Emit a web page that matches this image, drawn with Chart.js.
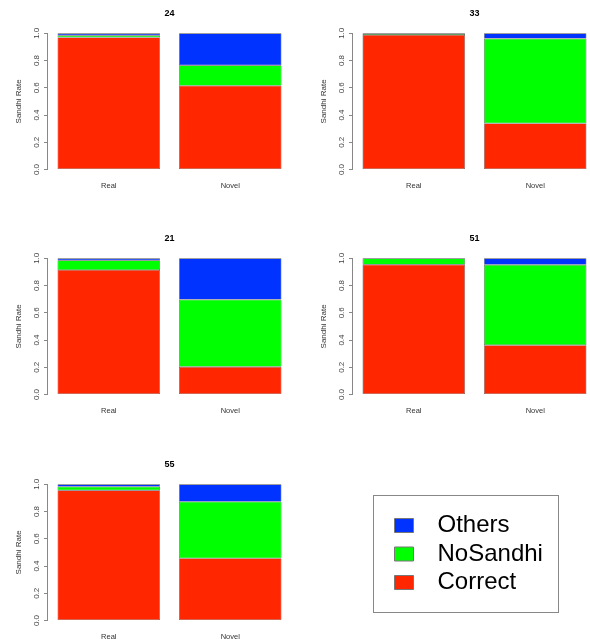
<!DOCTYPE html>
<html>
<head>
<meta charset="utf-8">
<script src="https://cdn.jsdelivr.net/npm/chart.js@4"></script>
<style>
  html, body { margin: 0; padding: 0; background: #fff; width: 590px; height: 639px; overflow: hidden; }
  .panel { position: absolute; width: 295px; height: 225px; }
  #legendFrame { position: absolute; left: 373px; top: 495px; width: 184px; height: 116px; border: 1px solid #888; box-sizing: content-box; }
  #legendCanvas { position: absolute; left: 390px; top: 509px; }
</style>
</head>
<body>
<div id="legendFrame"></div>
<canvas id="legendCanvas" width="200" height="110"></canvas>
<script>
// Sandhi outcome rates per tone pair, real vs. novel words
const categories = ['Real', 'Novel'];
const panelTitles = ['24', '33', '21', '51', '55'];
const seriesNames = ['Correct', 'NoSandhi', 'Others'];
const correct  = [[0.970, 0.615], [0.988, 0.338], [0.914, 0.203], [0.953, 0.362], [0.956, 0.457]];
const noSandhi = [[0.015, 0.150], [0.012, 0.623], [0.071, 0.494], [0.047, 0.590], [0.026, 0.415]];
const others   = [[0.015, 0.235], [0.000, 0.039], [0.015, 0.303], [0.000, 0.048], [0.018, 0.128]];
const yTicks = [0, 0.2, 0.4, 0.6, 0.8, 1.0];

const seriesColors = ['#ff2600', '#00ff00', '#0033ff'];
const FONT = 'Liberation Sans, Arial, Helvetica, sans-serif';

// grid slots for the five panels (left, top)
const slots = [[0, 0], [305, 0], [0, 225], [305, 225], [0, 451]];

// y axis line spanning only the 0..1 range
const axisLine = {
  id: 'axisLine',
  afterDraw(chart) {
    const ys = chart.scales.y;
    const x = Math.round(chart.chartArea.left) - 0.5;
    const ctx = chart.ctx;
    ctx.save();
    ctx.strokeStyle = '#888';
    ctx.lineWidth = 1;
    ctx.beginPath();
    ctx.moveTo(x, ys.getPixelForValue(0));
    ctx.lineTo(x, ys.getPixelForValue(1));
    ctx.stroke();
    ctx.restore();
  }
};

function panelConfig(p) {
  const series = [correct, noSandhi, others];
  return {
    type: 'bar',
    data: {
      labels: categories,
      datasets: series.map((s, i) => ({
        label: seriesNames[i],
        data: s[p],
        backgroundColor: seriesColors[i],
        borderColor: '#555',
        borderWidth: 0.6,
        borderSkipped: false,
        barPercentage: 0.843,
        categoryPercentage: 1
      }))
    },
    options: {
      responsive: false,
      animation: false,
      devicePixelRatio: 1,
      layout: { padding: { left: 0, right: 4, top: 0, bottom: 0 } },
      plugins: {
        legend: { display: false },
        tooltip: { enabled: false },
        title: {
          display: true,
          fullSize: false,
          text: panelTitles[p],
          color: '#000',
          font: { family: FONT, size: 9, weight: 'bold', lineHeight: 1.2 },
          padding: { top: 8.6, bottom: 8.45 }
        }
      },
      scales: {
        x: {
          stacked: true,
          grid: { display: false, drawTicks: false },
          border: { display: false },
          ticks: { color: '#333', font: { family: FONT, size: 7.5 }, padding: 6 },
          afterFit: s => { s.height = 50.05; }
        },
        y: {
          stacked: true,
          min: -0.04,
          max: 1.04,
          afterBuildTicks: s => { s.ticks = yTicks.map(v => ({ value: v })); },
          grid: { drawOnChartArea: false, drawTicks: true, tickLength: 4, color: '#888' },
          border: { display: false },
          ticks: {
            minRotation: 90, maxRotation: 90, crossAlign: 'center', padding: 1.5,
            color: '#444', font: { family: FONT, size: 8 },
            callback: v => Number(v).toFixed(1)
          },
          title: {
            display: true, text: 'Sandhi Rate', color: '#333',
            font: { family: FONT, size: 8 }, padding: { top: 14, bottom: 0 }
          },
          afterFit: s => { s.width = 48; }
        }
      }
    },
    plugins: [axisLine]
  };
}

panelTitles.forEach((t, p) => {
  const c = document.createElement('canvas');
  c.className = 'panel';
  c.width = 295;
  c.height = 225;
  c.style.left = slots[p][0] + 'px';
  c.style.top = slots[p][1] + 'px';
  document.body.appendChild(c);
  new Chart(c, panelConfig(p));
});

// shared legend
new Chart(document.getElementById('legendCanvas'), {
  type: 'bar',
  data: {
    labels: [],
    datasets: seriesNames.map((n, i) => ({ label: n, data: [], backgroundColor: seriesColors[i], borderColor: '#777', borderWidth: 1 }))
  },
  options: {
    responsive: false,
    animation: false,
    devicePixelRatio: 1,
    layout: { padding: 0 },
    scales: { x: { display: false }, y: { display: false } },
    plugins: {
      tooltip: { enabled: false },
      title: { display: false },
      legend: {
        display: true,
        position: 'left',
        align: 'start',
        reverse: true,
        maxWidth: 200,
        labels: {
          boxWidth: 19,
          boxHeight: 14,
          padding: 4.5,
          color: '#000',
          font: { family: FONT, size: 24 },
          generateLabels: chart => chart.data.datasets.map((d, i) => ({
            text: '\u2002' + d.label,
            fillStyle: d.backgroundColor,
            strokeStyle: '#777',
            lineWidth: 1,
            datasetIndex: i,
            hidden: false
          }))
        }
      }
    }
  }
});
</script>
</body>
</html>
